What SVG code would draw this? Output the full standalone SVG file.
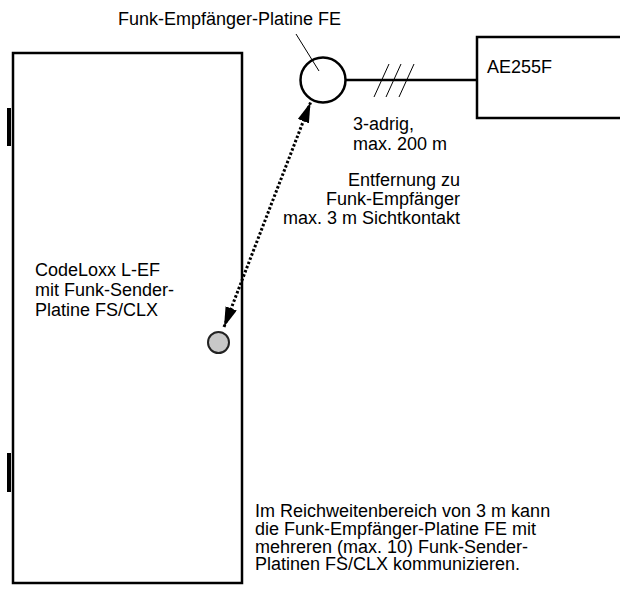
<svg xmlns="http://www.w3.org/2000/svg" width="620" height="589" viewBox="0 0 620 589">
<style>
text{font-family:"Liberation Sans",Arial,sans-serif;font-size:18px;fill:#000}
.box{fill:#fff;stroke:#000;stroke-width:2.5}
.thin{stroke:#000;stroke-width:1;fill:none}
.hinge{fill:#000}
.end{text-anchor:end}
</style>
<defs>
<marker id="arr" viewBox="0 0 20 12" refX="20" refY="6" markerWidth="20" markerHeight="12" markerUnits="userSpaceOnUse" orient="auto-start-reverse">
<path d="M0,0 L20,6 L0,12 Z" fill="#000"/>
</marker>
</defs>
<rect width="620" height="589" fill="#fff"/>
<g id="door">
<rect class="box" x="13" y="53" width="229" height="530"/>
<rect class="hinge" x="7" y="108" width="4" height="38"/>
<rect class="hinge" x="7" y="453" width="4" height="39"/>
<text x="35" y="276">CodeLoxx L-EF</text>
<text x="35" y="296">mit Funk-Sender-</text>
<text x="35" y="316">Platine FS/CLX</text>
</g>
<g id="sender">
<circle cx="218.5" cy="342.5" r="10.5" fill="#c8c8c8" stroke="#222" stroke-width="2"/>
</g>
<g id="fe">
<circle cx="323" cy="80" r="22.5" fill="#fff" stroke="#000" stroke-width="2.5"/>
<text x="118" y="25">Funk-Empfänger-Platine FE</text>
<line class="thin" x1="296" y1="34" x2="319" y2="71"/>
</g>
<g id="ae255f">
<rect class="box" x="477" y="37" width="160" height="81"/>
<text x="487" y="73">AE255F</text>
</g>
<g id="connectors">
<line x1="345.5" y1="80" x2="477" y2="80" stroke="#000" stroke-width="2.5"/>
<line class="thin" x1="374" y1="97" x2="389" y2="64"/>
<line class="thin" x1="386" y1="97" x2="401" y2="64"/>
<line class="thin" x1="399" y1="97" x2="414" y2="64"/>
<line x1="224" y1="327" x2="310.5" y2="102.5" stroke="#000" stroke-width="3" stroke-dasharray="2.5 2" marker-start="url(#arr)" marker-end="url(#arr)"/>
</g>
<g id="labels">
<text x="353" y="130">3-adrig,</text>
<text x="353" y="150">max. 200 m</text>
<text class="end" x="460" y="186">Entfernung zu</text>
<text class="end" x="460" y="205">Funk-Empfänger</text>
<text class="end" x="460" y="224">max. 3 m Sichtkontakt</text>
<text x="255" y="517">Im Reichweitenbereich von 3 m kann</text>
<text x="255" y="535">die Funk-Empfänger-Platine FE mit</text>
<text x="255" y="553">mehreren (max. 10) Funk-Sender-</text>
<text x="255" y="570">Platinen FS/CLX kommunizieren.</text>
</g>
</svg>
